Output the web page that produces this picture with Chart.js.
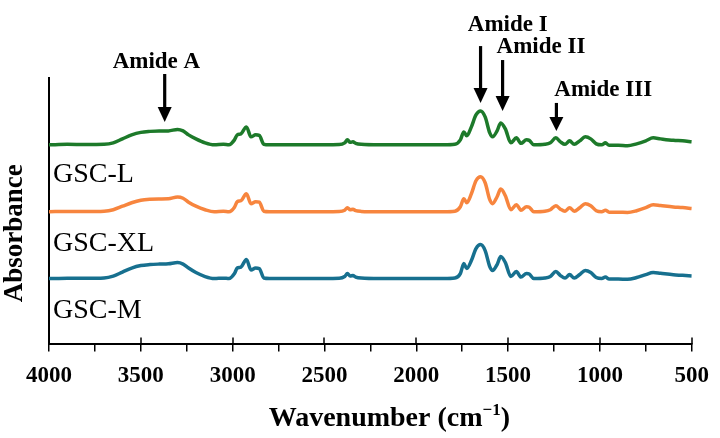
<!DOCTYPE html>
<html>
<head>
<meta charset="utf-8">
<script src="https://cdn.jsdelivr.net/npm/chart.js@4/dist/chart.umd.min.js"></script>
<style>
  html, body { margin: 0; padding: 0; background: #fff; }
  #wrap { width: 720px; height: 438px; }
</style>
</head>
<body>
<div id="wrap"><canvas id="ftir" width="720" height="438"></canvas></div>
<script>
/* FTIR spectra of the three GSC samples (offset stacked, arbitrary units) */
const wavenumber = [4000, 3900, 3800, 3700, 3650, 3600, 3550, 3500, 3450, 3400, 3350, 3300, 3270, 3240, 3200, 3150, 3100, 3050, 3020,
  2990, 2975, 2955, 2925, 2900, 2875, 2855, 2830, 2800, 2600, 2420, 2390, 2375, 2360, 2345, 2330, 2300, 2200, 2000, 1850,
  1790, 1760, 1741, 1725, 1700, 1675, 1650, 1625, 1600, 1585, 1560, 1540, 1515, 1485, 1455, 1430, 1400, 1385, 1360,
  1300, 1270, 1240, 1215, 1190, 1165, 1140, 1110, 1080, 1050, 1020, 990, 970, 950, 900, 850, 800, 750, 710, 670, 600, 550, 500];

const gscL = [2.000, 2.005, 2.003, 2.005, 2.020, 2.060, 2.100, 2.125, 2.135, 2.140, 2.140, 2.155, 2.140, 2.100, 2.060, 2.020, 2.000, 2.005, 2.000,
  2.050, 2.100, 2.110, 2.180, 2.080, 2.100, 2.095, 2.005, 2.000, 2.000, 2.003, 2.020, 2.050, 2.025, 2.030, 2.015, 2.005, 2.000, 2.000, 2.000,
  2.005, 2.050, 2.130, 2.090, 2.180, 2.300, 2.340, 2.280, 2.120, 2.080, 2.140, 2.220, 2.160, 2.020, 2.070, 2.015, 2.050, 2.045, 2.000,
  2.005, 2.020, 2.070, 2.030, 2.005, 2.040, 2.005, 2.040, 2.080, 2.060, 2.010, 2.000, 2.020, 1.995, 1.995, 1.990, 2.010, 2.040, 2.070, 2.060, 2.045, 2.040, 2.030];

const gscXL = [1.330, 1.333, 1.332, 1.335, 1.350, 1.385, 1.420, 1.445, 1.455, 1.458, 1.460, 1.478, 1.465, 1.425, 1.385, 1.350, 1.330, 1.335, 1.330,
  1.375, 1.430, 1.440, 1.510, 1.410, 1.430, 1.425, 1.335, 1.330, 1.330, 1.333, 1.345, 1.370, 1.350, 1.355, 1.340, 1.333, 1.330, 1.330, 1.330,
  1.335, 1.380, 1.460, 1.420, 1.510, 1.640, 1.680, 1.620, 1.450, 1.410, 1.480, 1.557, 1.490, 1.350, 1.400, 1.345, 1.380, 1.375, 1.330,
  1.335, 1.350, 1.390, 1.355, 1.335, 1.370, 1.335, 1.370, 1.410, 1.390, 1.340, 1.330, 1.345, 1.325, 1.325, 1.322, 1.340, 1.370, 1.400, 1.392, 1.378, 1.372, 1.362];

const gscM = [0.660, 0.664, 0.662, 0.666, 0.685, 0.725, 0.765, 0.790, 0.800, 0.805, 0.808, 0.820, 0.805, 0.765, 0.720, 0.680, 0.660, 0.664, 0.660,
  0.710, 0.765, 0.775, 0.850, 0.745, 0.765, 0.760, 0.665, 0.660, 0.660, 0.663, 0.680, 0.710, 0.685, 0.690, 0.675, 0.665, 0.660, 0.660, 0.660,
  0.665, 0.710, 0.810, 0.760, 0.840, 0.960, 1.000, 0.940, 0.780, 0.740, 0.800, 0.880, 0.820, 0.680, 0.730, 0.675, 0.710, 0.705, 0.660,
  0.665, 0.680, 0.730, 0.690, 0.665, 0.700, 0.665, 0.700, 0.740, 0.720, 0.670, 0.660, 0.675, 0.655, 0.655, 0.652, 0.670, 0.700, 0.720, 0.712, 0.698, 0.692, 0.685];

const seriesNames  = ['GSC-L', 'GSC-XL', 'GSC-M'];
const seriesColors = ['#1d7a2a', '#f7853e', '#17708f'];

const amideLabels = ['Amide A', 'Amide I', 'Amide II', 'Amide III'];
const amidePeaks  = [3370, 1650, 1530, 1237];

// where the annotation text / arrows sit (data units of the chart)
const amideLayout = [
  { textX: 3415, textY: 2.77, top: 2.71, tip: 2.23 },
  { textX: 1502, textY: 3.14, top: 2.99, tip: 2.42 },
  { textX: 1321, textY: 2.92, top: 2.85, tip: 2.34 },
  { textX: 982,  textY: 2.49, top: 2.42, tip: 2.14 }
];
const nameLayout = [ { x: 3978, y: 1.63 }, { x: 3978, y: 0.94 }, { x: 3978, y: 0.26 } ];

const SERIF = "'Liberation Serif', 'Times New Roman', serif";

const toXY = vals => vals.map((v, i) => ({ x: wavenumber[i], y: v }));

/* decorations: inner half of major ticks, arrows, sample names, axis titles */
const ftirDecor = {
  id: 'ftirDecor',
  afterDraw(chart) {
    const { ctx, chartArea, scales: { x, y } } = chart;
    ctx.save();

    ctx.strokeStyle = '#000';
    ctx.lineWidth = 1.5;
    x.ticks.forEach(t => {
      if (t.value % 500 !== 0) return;
      const px = Math.round(x.getPixelForValue(t.value));
      ctx.beginPath();
      ctx.moveTo(px, chartArea.bottom);
      ctx.lineTo(px, chartArea.bottom - 7);
      ctx.stroke();
    });

    // amide band arrows
    ctx.fillStyle = '#000';
    ctx.font = `bold 23px ${SERIF}`;
    ctx.textAlign = 'center';
    ctx.textBaseline = 'alphabetic';
    amideLabels.forEach((lab, i) => {
      const L = amideLayout[i];
      const ax = x.getPixelForValue(amidePeaks[i]);
      const top = y.getPixelForValue(L.top), tip = y.getPixelForValue(L.tip);
      const head = Math.min(15, (tip - top) * 0.5);
      ctx.lineWidth = 3.2;
      ctx.beginPath();
      ctx.moveTo(ax, top);
      ctx.lineTo(ax, tip - head + 1);
      ctx.stroke();
      ctx.beginPath();
      ctx.moveTo(ax - 7, tip - head);
      ctx.lineTo(ax + 7, tip - head);
      ctx.lineTo(ax, tip);
      ctx.closePath();
      ctx.fill();
      ctx.fillText(lab, x.getPixelForValue(L.textX), y.getPixelForValue(L.textY));
    });

    // sample names
    ctx.font = `28px ${SERIF}`;
    ctx.textAlign = 'left';
    seriesNames.forEach((n, i) => {
      ctx.fillText(n, x.getPixelForValue(nameLayout[i].x), y.getPixelForValue(nameLayout[i].y));
    });

    // y title
    ctx.save();
    ctx.translate(chartArea.left - 34, (chartArea.top + chartArea.bottom) / 2 + 22);
    ctx.rotate(-Math.PI / 2);
    ctx.textAlign = 'center';
    ctx.textBaseline = 'middle';
    ctx.font = `bold 27px ${SERIF}`;
    ctx.fillText('Absorbance', 0, 0);
    ctx.restore();

    // x title with superscript
    const main = 'Wavenumber (cm', sup = '\u22121', tail = ')';
    ctx.font = `bold 28px ${SERIF}`;
    const wMain = ctx.measureText(main).width, wTail = ctx.measureText(tail).width;
    ctx.font = `bold 17px ${SERIF}`;
    const wSup = ctx.measureText(sup).width;
    const cx = (chartArea.left + chartArea.right) / 2 + 19;
    let tx = cx - (wMain + wSup + wTail) / 2;
    const base = chartArea.bottom + 82;
    ctx.textAlign = 'left';
    ctx.font = `bold 28px ${SERIF}`;
    ctx.fillText(main, tx, base); tx += wMain;
    ctx.font = `bold 17px ${SERIF}`;
    ctx.fillText(sup, tx, base - 11); tx += wSup;
    ctx.font = `bold 28px ${SERIF}`;
    ctx.fillText(tail, tx, base);

    ctx.restore();
  }
};

new Chart(document.getElementById('ftir').getContext('2d'), {
  type: 'line',
  data: {
    datasets: [gscL, gscXL, gscM].map((vals, i) => ({
      label: seriesNames[i], data: toXY(vals),
      borderColor: seriesColors[i], borderWidth: 3.5,
      pointRadius: 0, fill: false,
      cubicInterpolationMode: 'monotone'
    }))
  },
  options: {
    responsive: false, animation: false,
    layout: { padding: { left: 49, top: 78, right: 25, bottom: 37 } },
    plugins: { legend: { display: false }, tooltip: { enabled: false } },
    scales: {
      x: {
        type: 'linear', reverse: true, min: 500, max: 4000,
        border: { display: true, color: '#000', width: 2 },
        grid: { drawOnChartArea: false, drawTicks: true, tickLength: 7, color: '#000', lineWidth: 1.5 },
        ticks: {
          stepSize: 250, autoSkip: false, maxRotation: 0, padding: 11, color: '#000',
          font: { family: SERIF, size: 23, weight: 'bold' },
          callback: v => (v % 500 === 0 ? String(v) : '')
        }
      },
      y: {
        min: 0, max: 2.67,
        border: { display: true, color: '#000', width: 2 },
        grid: { display: false, drawTicks: false },
        ticks: { display: false }
      }
    }
  },
  plugins: [ftirDecor]
});
</script>
</body>
</html>
